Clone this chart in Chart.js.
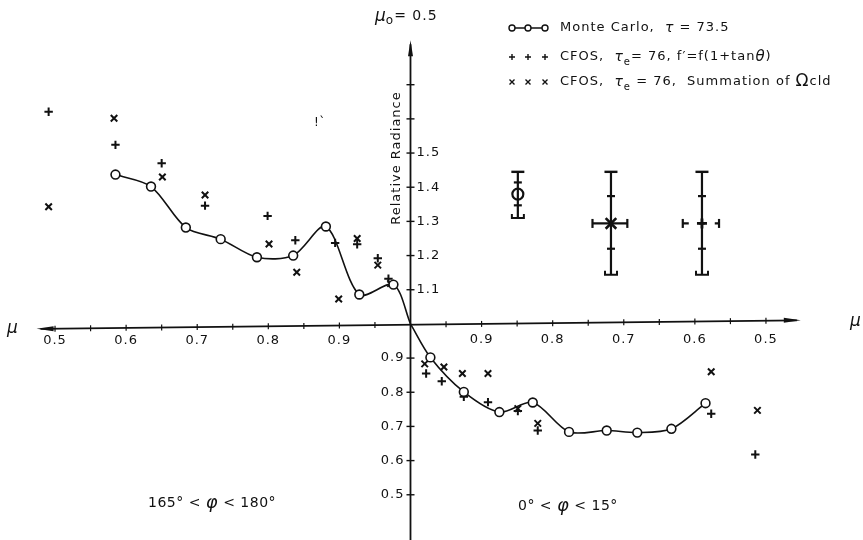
<!DOCTYPE html>
<html>
	<head>
		<meta charset="utf-8">
		<title>Relative Radiance</title>
		<script src="https://cdn.jsdelivr.net/npm/chart.js"></script>
		<style>
			body {
				margin: 0;
				background: #fff;
			}
			#wrap {
				width: 863px;
				height: 540px;
			}
		</style>
	</head>
	<body>
		<div id="wrap">
			<canvas id="chart" width="863" height="540"></canvas>
		</div>
		<script>
			// left half: 165° < phi < 180°, right half: 0° < phi < 15°
			// values are mu and relative radiance
			const muMcLeft = [0.585, 0.635, 0.684, 0.733, 0.784, 0.835, 0.881, 0.928, 0.976, 1.0];
			const mcLeft = [1.437, 1.402, 1.282, 1.248, 1.195, 1.200, 1.285, 1.086, 1.115, 1.0];
			const muMcRight = [1.0, 0.972, 0.925, 0.875, 0.828, 0.777, 0.724, 0.681, 0.633, 0.585];
			const mcRight = [1.0, 0.902, 0.801, 0.742, 0.770, 0.684, 0.688, 0.682, 0.693, 0.768];

			// CFOS, f' = f(1 + tan theta)  (+)
			const muPlusLeft = [0.491, 0.585, 0.650, 0.711, 0.799, 0.838, 0.894, 0.925, 0.954, 0.969];
			const plusLeft = [1.621, 1.524, 1.470, 1.346, 1.316, 1.245, 1.237, 1.233, 1.192, 1.132];
			const muPlusRight = [0.978, 0.956, 0.925, 0.891, 0.849, 0.821, 0.577, 0.515];
			const plusRight = [0.855, 0.832, 0.787, 0.771, 0.745, 0.688, 0.737, 0.618];

			// CFOS, summation of Omega cld  (x)
			const muCrossLeft = [0.491, 0.583, 0.651, 0.711, 0.801, 0.840, 0.899, 0.925, 0.954, 0.972];
			const crossLeft = [1.343, 1.602, 1.430, 1.377, 1.234, 1.151, 1.073, 1.250, 1.172, 1.118];
			const muCrossRight = [0.980, 0.953, 0.927, 0.891, 0.849, 0.821, 0.577, 0.512];
			const crossRight = [0.883, 0.874, 0.855, 0.855, 0.752, 0.709, 0.860, 0.747];

			// error bars drawn in the right half (mc, x, + keys)
			const errMu = [0.849, 0.718, 0.590];
			const errTop = [1.445, 1.445, 1.445];
			const errBottom = [1.310, 1.144, 1.144];
			const errCenter = [1.380, 1.294, 1.294];
			const errTickHi = [1.414, 1.374, 1.374];
			const errTickLo = [1.347, 1.220, 1.220];
			const errMuLeft = [null, 0.744, 0.617];
			const errMuRight = [null, 0.695, 0.566];

			const xTickLabels = ['0.5', '0.6', '0.7', '0.8', '0.9'];
			const yTickUpper = ['1.1', '1.2', '1.3', '1.4', '1.5'];
			const yTickLower = ['0.9', '0.8', '0.7', '0.6', '0.5'];

			// folded axis: left half runs mu 0.5 -> 1, right half mu 1 -> 0.5
			const toU = (mu, side) => side === 'L' ? mu - 1 : 1 - mu;
			const pts = (mus, vals, side) => mus.map((m, i) => ({ x: toU(m, side), y: vals[i] }));

			const FONT = '"DejaVu Sans", sans-serif';

			// bottom cap of the error bars, a flat U
			const capLow = document.createElement('canvas');
			capLow.width = 16;
			capLow.height = 12;
			(function () {
				const c = capLow.getContext('2d');
				c.strokeStyle = '#111';
				c.lineWidth = 2;
				c.beginPath();
				c.moveTo(2, 2);
				c.lineTo(2, 6);
				c.lineTo(14, 6);
				c.lineTo(14, 2);
				c.stroke();
			})();

			const datasets = [];
			const blk = '#111';

			datasets.push({
				type: 'line',
				data: pts(muMcLeft, mcLeft, 'L'),
				borderColor: blk,
				borderWidth: 1.6,
				tension: 0.3,
				pointRadius: muMcLeft.map(m => m === 1 ? 0 : 4.4),
				pointBackgroundColor: '#fff',
				pointBorderColor: blk,
				pointBorderWidth: 1.6
			});
			datasets.push({
				type: 'line',
				data: pts(muMcRight, mcRight, 'R'),
				borderColor: blk,
				borderWidth: 1.6,
				tension: 0.3,
				pointRadius: muMcRight.map(m => m === 1 ? 0 : 4.4),
				pointBackgroundColor: '#fff',
				pointBorderColor: blk,
				pointBorderWidth: 1.6
			});
			datasets.push({
				type: 'scatter',
				data: pts(muPlusLeft, plusLeft, 'L').concat(pts(muPlusRight, plusRight, 'R')),
				pointStyle: 'cross',
				pointRadius: 4.2,
				borderColor: blk,
				pointBorderWidth: 2
			});
			datasets.push({
				type: 'scatter',
				data: pts(muCrossLeft, crossLeft, 'L').concat(pts(muCrossRight, crossRight, 'R')),
				pointStyle: 'crossRot',
				pointRadius: 4.6,
				borderColor: blk,
				pointBorderWidth: 2
			});

			// error bars
			errMu.forEach((m, i) => {
				const u = toU(m, 'R');
				datasets.push({
					type: 'line',
					data: [{ x: u, y: errTop[i] }, { x: u, y: errBottom[i] }],
					borderColor: blk,
					borderWidth: 2.2,
					pointRadius: 0
				});
				if (errMuLeft[i] !== null) {
					datasets.push({
						type: 'line',
						data: [{ x: toU(errMuLeft[i], 'R'), y: errCenter[i] }, { x: toU(errMuRight[i], 'R'), y: errCenter[i] }],
						borderColor: blk,
						borderWidth: 2.2,
						borderDash: i === 2 ? [6, 10] : [],
						pointStyle: 'line',
						rotation: 90,
						pointRadius: 4.5,
						pointBorderWidth: 2.2,
						pointBorderColor: blk
					});
				}
			});
			datasets.push({
				type: 'scatter',
				data: errMu.map((m, i) => ({ x: toU(m, 'R'), y: errTop[i] })),
				pointStyle: 'line',
				pointRadius: 6.5,
				borderColor: blk,
				pointBorderWidth: 2.4
			});
			datasets.push({
				type: 'scatter',
				data: errMu.map((m, i) => ({ x: toU(m, 'R'), y: errBottom[i] })),
				pointStyle: capLow,
				pointRadius: 8
			});
			datasets.push({
				type: 'scatter',
				data: errMu.map((m, i) => ({ x: toU(m, 'R'), y: errTickHi[i] }))
					.concat(errMu.map((m, i) => ({ x: toU(m, 'R'), y: errTickLo[i] }))),
				pointStyle: 'line',
				pointRadius: 4,
				borderColor: blk,
				pointBorderWidth: 2.2
			});
			datasets.push({
				type: 'scatter',
				data: [{ x: toU(errMu[0], 'R'), y: errCenter[0] }],
				pointStyle: 'circle',
				pointRadius: 5.5,
				backgroundColor: '#fff',
				borderColor: blk,
				pointBorderWidth: 2.2
			});
			datasets.push({
				type: 'scatter',
				data: [{ x: toU(errMu[1], 'R'), y: errCenter[1] }],
				pointStyle: 'crossRot',
				pointRadius: 7.5,
				borderColor: blk,
				pointBorderWidth: 2.6
			});
			datasets.push({
				type: 'scatter',
				data: [{ x: toU(errMu[2], 'R'), y: errCenter[2] }],
				pointStyle: 'cross',
				pointRadius: 5,
				borderColor: blk,
				pointBorderWidth: 2.8
			});

			function rich(ctx, parts, x, y) {
				// parts: [text, font, dy]
				parts.forEach(p => {
					ctx.font = p[1];
					ctx.fillText(p[0], x, y + (p[2] || 0));
					x += ctx.measureText(p[0]).width;
				});
				return x;
			}

			const axesPlugin = {
				id: 'foldedAxes',
				beforeDatasetsDraw(chart) {
					const ctx = chart.ctx;
					const xs = chart.scales.x;
					const ys = chart.scales.y;
					const x0 = xs.getPixelForValue(0);
					const y0 = ys.getPixelForValue(1);
					ctx.save();
					ctx.strokeStyle = blk;
					ctx.fillStyle = blk;
					ctx.lineWidth = 1.8;

					// vertical axis
					const yTop = ys.getPixelForValue(1.83);
					ctx.beginPath();
					ctx.moveTo(x0, yTop + 4);
					ctx.lineTo(x0, chart.height);
					ctx.stroke();
					ctx.beginPath();
					ctx.moveTo(x0, yTop);
					ctx.lineTo(x0 - 2.5, yTop + 16);
					ctx.lineTo(x0 + 2.5, yTop + 16);
					ctx.closePath();
					ctx.fill();
					ctx.lineWidth = 1.4;
					for (let k = 5; k <= 17; k++) {
						if (k === 10) continue;
						const py = ys.getPixelForValue(k / 10);
						ctx.beginPath();
						ctx.moveTo(x0 - 4, py);
						ctx.lineTo(x0 + 4, py);
						ctx.stroke();
					}

					// horizontal axis, slightly tilted as in the scan
					const xl = xs.getPixelForValue(-0.526);
					const xr = xs.getPixelForValue(0.549);
					const tilt = 8.5 / (xr - xl);
					const yAt = px => y0 + 0.8 - (px - x0) * tilt;
					ctx.lineWidth = 1.8;
					ctx.beginPath();
					ctx.moveTo(xl + 4, yAt(xl + 4));
					ctx.lineTo(xr - 4, yAt(xr - 4));
					ctx.stroke();
					ctx.beginPath();
					ctx.moveTo(xl, yAt(xl));
					ctx.lineTo(xl + 17, yAt(xl) - 2.5);
					ctx.lineTo(xl + 17, yAt(xl) + 2.5);
					ctx.closePath();
					ctx.fill();
					ctx.beginPath();
					ctx.moveTo(xr, yAt(xr));
					ctx.lineTo(xr - 17, yAt(xr) - 2.5);
					ctx.lineTo(xr - 17, yAt(xr) + 2.5);
					ctx.closePath();
					ctx.fill();
					ctx.lineWidth = 1.2;
					for (let k = 1; k <= 10; k++) {
						[-1, 1].forEach(s => {
							const px = xs.getPixelForValue(s * k * 0.05);
							ctx.beginPath();
							ctx.moveTo(px, yAt(px) - 3);
							ctx.lineTo(px, yAt(px) + 3);
							ctx.stroke();
						});
					}

					// tick labels
					ctx.textBaseline = 'middle';
					ctx.font = '13px ' + FONT;
					ctx.letterSpacing = '1px';
					ctx.textAlign = 'center';
					xTickLabels.forEach(t => {
						const v = parseFloat(t);
						const pl = xs.getPixelForValue(toU(v, 'L'));
						const pr = xs.getPixelForValue(toU(v, 'R'));
						ctx.fillText(t, pl, 341);
						ctx.fillText(t, pr, 340);
					});
					ctx.textAlign = 'left';
					yTickUpper.forEach(t => {
						ctx.fillText(t, x0 + 6, ys.getPixelForValue(parseFloat(t)));
					});
					ctx.textAlign = 'right';
					yTickLower.forEach(t => {
						ctx.fillText(t, x0 - 6, ys.getPixelForValue(parseFloat(t)));
					});

					// axis names
					ctx.textAlign = 'left';
					ctx.letterSpacing = '0px';
					ctx.font = 'italic 17px ' + FONT;
					ctx.fillText('μ', 7, yAt(7) - 1);
					ctx.fillText('μ', 850, yAt(850) + 2);
					let tx = rich(ctx, [['μ', 'italic 17px ' + FONT, 0], ['o', '12px ' + FONT, 4]], 375, 17);
					ctx.letterSpacing = '1px';
					rich(ctx, [['= 0.5', '14px ' + FONT, 0]], tx + 1, 16);

					ctx.save();
					ctx.translate(397, 158);
					ctx.rotate(-Math.PI / 2);
					ctx.textAlign = 'center';
					ctx.font = '13px ' + FONT;
					ctx.fillText('Relative Radiance', 0, 0);
					ctx.restore();

					// sector labels
					ctx.letterSpacing = '0.5px';
					rich(ctx, [['165° < ', '14px ' + FONT, 0], ['φ', 'italic 18px ' + FONT, 0], [' < 180°', '14px ' + FONT, 0]], 148, 503);
					rich(ctx, [['0° < ', '14px ' + FONT, 0], ['φ', 'italic 18px ' + FONT, 0], [' < 15°', '14px ' + FONT, 0]], 518, 506);
					ctx.font = '12px ' + FONT;
					ctx.fillText("!ˋ", 314, 123);

					// legend
					const lx = [512, 528, 545];
					ctx.lineWidth = 1.4;
					ctx.beginPath();
					ctx.moveTo(lx[0], 28);
					ctx.lineTo(lx[2], 28);
					ctx.stroke();
					lx.forEach(x => {
						ctx.beginPath();
						ctx.arc(x, 28, 3, 0, Math.PI * 2);
						ctx.fillStyle = '#fff';
						ctx.fill();
						ctx.stroke();
						ctx.fillStyle = blk;
						ctx.beginPath();
						ctx.moveTo(x - 3, 57);
						ctx.lineTo(x + 3, 57);
						ctx.moveTo(x, 54);
						ctx.lineTo(x, 60);
						ctx.moveTo(x - 2.5, 79.5);
						ctx.lineTo(x + 2.5, 84.5);
						ctx.moveTo(x + 2.5, 79.5);
						ctx.lineTo(x - 2.5, 84.5);
						ctx.stroke();
					});
					ctx.letterSpacing = '1px';
					const f13 = '13px ' + FONT;
					const sub = '10px ' + FONT;
					rich(ctx, [['Monte Carlo,  ', f13, 0], ['τ', 'italic 14px ' + FONT, 0], [' = 73.5', f13, 0]], 560, 28);
					rich(ctx, [['CFOS,  ', f13, 0], ['τ', 'italic 14px ' + FONT, 0], ['e', sub, 5], ['= 76, f′=f(1+tan', f13, 0], ['θ', 'italic 15px ' + FONT, 0], [')', f13, 0]], 560, 57);
					rich(ctx, [['CFOS,  ', f13, 0], ['τ', 'italic 14px ' + FONT, 0], ['e', sub, 5], [' = 76,  Summation of ', f13, 0], ['Ω', '17px ' + FONT, 0], ['cld', f13, 0]], 560, 82);
					ctx.restore();
				}
			};

			new Chart(document.getElementById('chart').getContext('2d'), {
				type: 'scatter',
				data: { datasets: datasets },
				options: {
					responsive: false,
					animation: false,
					layout: { padding: 0 },
					plugins: {
						legend: { display: false },
						tooltip: { enabled: false }
					},
					scales: {
						x: { type: 'linear', display: false, min: -0.5632, max: 0.6223 },
						y: { type: 'linear', display: false, min: 0.3972, max: 1.9183 }
					}
				},
				plugins: [axesPlugin]
			});
		</script>
	</body>
</html>
